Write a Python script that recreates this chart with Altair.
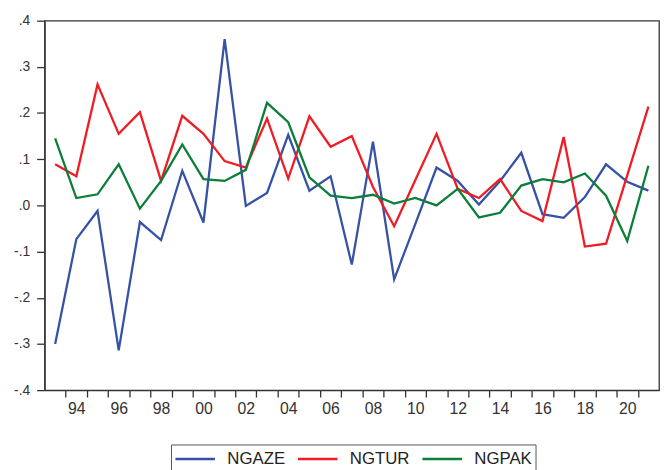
import altair as alt
import pandas as pd

years = list(range(1993, 2022))

ngaze = [-0.300, -0.073, -0.012, -0.314, -0.036, -0.075, 0.075, -0.037, 0.360, -0.001,
         0.027, 0.153, 0.032, 0.063, -0.128, 0.138, -0.160, -0.040, 0.082, 0.053,
         0.002, 0.053, 0.114, -0.019, -0.027, 0.018, 0.089, 0.051, 0.032]
ngtur = [0.089, 0.063, 0.262, 0.155, 0.202, 0.053, 0.194, 0.155, 0.096, 0.082,
         0.188, 0.058, 0.193, 0.127, 0.150, 0.040, -0.045, 0.055, 0.155, 0.036,
         0.016, 0.057, -0.012, -0.034, 0.148, -0.089, -0.083, 0.065, 0.214]
ngpak = [0.145, 0.016, 0.024, 0.089, -0.007, 0.053, 0.132, 0.057, 0.053, 0.077,
         0.222, 0.180, 0.061, 0.021, 0.016, 0.023, 0.004, 0.016, 0.000, 0.036,
         -0.026, -0.016, 0.043, 0.057, 0.050, 0.069, 0.021, -0.077, 0.086]

series_names = ["NGAZE", "NGTUR", "NGPAK"]
series_colors = ["#3552A5", "#EE1C25", "#0B7F3A"]

x_ticks = [y + 0.5 for y in range(1993, 2021)]
x_labels = list(range(1994, 2021, 2))
y_ticks = [-0.4, -0.3, -0.2, -0.1, 0.0, 0.1, 0.2, 0.3, 0.4]

rows = []
for name, vals in zip(series_names, [ngaze, ngtur, ngpak]):
    for yr, v in zip(years, vals):
        rows.append({"year": yr, "value": v, "series": name})
df = pd.DataFrame(rows)

FONT = "Liberation Sans"

xscale = alt.Scale(domain=[1992.5, 2021.5], nice=False, zero=False)
yscale = alt.Scale(domain=[-0.4, 0.4], nice=False, zero=False)

lines = alt.Chart(df).mark_line(strokeWidth=2.3).encode(
    x=alt.X("year:Q", scale=xscale,
            axis=alt.Axis(values=x_ticks, labels=False, tickSize=7, title=None,
                          grid=False, domainColor="#333", tickColor="#333",
                          domainWidth=1.3, tickWidth=1.3, orient="bottom")),
    y=alt.Y("value:Q", scale=yscale,
            axis=alt.Axis(values=y_ticks, tickSize=8, title=None, grid=False,
                          labelExpr="(datum.value < -0.001 ? '-' : '') + '.' + format(abs(datum.value) * 10, '.0f')",
                          labelFontSize=14, labelPadding=7, labelColor="#333",
                          domainColor="#333", tickColor="#333",
                          domainWidth=1.3, tickWidth=1.3)),
    color=alt.Color("series:N", title=None,
                    scale=alt.Scale(domain=series_names, range=series_colors),
                    sort=series_names,
                    legend=alt.Legend(orient="none", legendX=128, legendY=429,
                                      direction="horizontal", columns=3,
                                      symbolType="M-2,0L2,0", symbolSize=400,
                                      symbolOffset=10,
                                      symbolStrokeWidth=2.5, labelFontSize=17,
                                      labelFont=FONT, labelColor="#222",
                                      labelOffset=21, columnPadding=7,
                                      padding=3, strokeColor="#555",
                                      fillColor="white")),
    order=alt.Order("year:Q"),
)

labels_layer = alt.Chart(pd.DataFrame({"year": x_labels})).mark_point(opacity=0).encode(
    x=alt.X("year:Q", scale=xscale,
            axis=alt.Axis(values=x_labels, ticks=False, domain=False, grid=False, title=None,
                          orient="bottom",
                          labelExpr="format(datum.value % 100, '02d')",
                          labelFontSize=16, labelPadding=11, labelColor="#333")),
)

chart = alt.layer(lines, labels_layer).resolve_axis(x="independent").properties(
    width=622, height=374,
    padding={"left": 37, "top": 10, "right": 1, "bottom": 78},
    autosize="none",
).configure_axis(
    labelFont=FONT,
).configure_view(
    stroke="#333", strokeWidth=1.3
)

chart.save("out.html", embed_options={"renderer": "svg", "actions": False})
